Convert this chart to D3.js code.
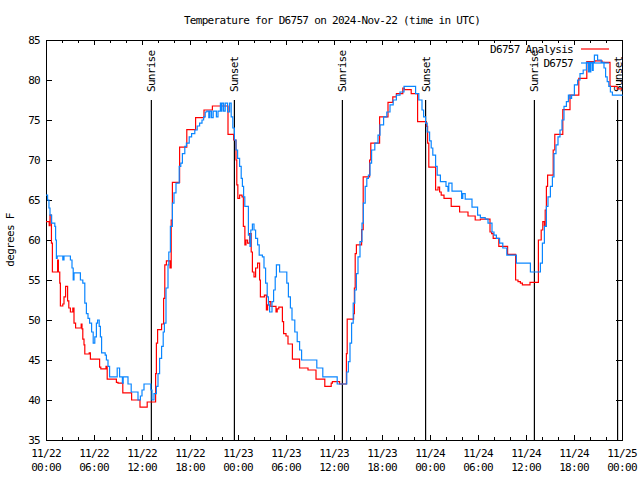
<!DOCTYPE html>
<html><head><meta charset="utf-8">
<script src="https://cdn.jsdelivr.net/npm/d3@7"></script>
<style>body{margin:0;background:#fff}text{font-family:"DejaVu Sans Mono",monospace;font-size:11px;letter-spacing:-0.7px;fill:#000}</style>
</head><body><svg id="c" width="640" height="480"></svg>
<script>
// hours since 2024-11-22 00:00 UTC
const analysisHours = [0,0.4,0.5,0.68,0.8,1.45,1.55,1.72,1.8,2.1,2.25,2.45,2.7,2.85,3.05,3.35,3.5,3.7,4.4,4.5,4.6,4.75,4.85,5.4,5.55,6.7,6.85,7.5,7.65,8.8,9.0,9.6,10.7,11.75,12.65,13.7,13.8,13.95,14.45,14.7,14.85,15.05,15.5,15.65,15.8,16.7,17.6,18.7,19.75,20.8,22.75,23.45,23.5,23.75,23.85,23.98,24.2,24.5,24.67,24.86,25.0,25.2,25.45,25.65,25.8,26.0,26.2,26.45,26.7,26.8,27.3,27.55,27.7,27.85,28.1,28.75,28.9,29.1,29.55,29.7,30.0,30.25,30.8,31.7,32.75,33.75,34.85,35.65,35.8,36.7,37.55,37.65,38.45,38.55,38.65,38.8,39.45,39.65,40.45,40.6,41.7,42.75,43.35,43.8,44.6,44.8,45.65,46.45,47.55,47.7,47.85,48.7,49.0,49.2,49.4,49.75,50.65,51.7,52.75,53.65,54.3,55.5,55.7,55.9,56.6,57.7,58.7,59.0,59.3,59.55,60.5,61.55,61.9,62.1,62.3,62.4,62.55,62.7,63.4,63.6,64.6,65.5,66.6,67.6,68.6,69.5,70.5,71.4,72];
const analysisTemps = [62.3,61.8,63.1,59.6,56.0,57.5,56.0,54.6,51.75,52.0,52.9,54.2,52.4,51.5,51.0,51.5,49.6,49.0,49.5,48.9,47.6,46.9,45.75,45.9,45.1,44.1,43.9,44.2,42.6,42.2,42.1,40.9,40.0,39.1,39.75,43.3,47.1,48.8,49.5,52.7,56.9,57.4,56.5,62.5,67.2,71.6,73.8,75.3,76.25,76.75,73.2,72.5,72.5,70.0,66.9,65.2,65.6,65.4,61.7,59.4,60.0,59.6,60.8,58.5,56.0,55.4,56.5,57.1,55.0,52.9,53.1,51.25,51.9,52.3,51.7,51.0,51.4,51.6,49.8,48.3,48.0,47.0,45.1,44.0,43.75,42.6,41.7,42.1,42.3,42.0,45.8,50.1,50.8,54.0,58.3,59.4,61.3,67.9,70.0,72.1,75.4,77.2,77.9,78.3,79.0,78.8,78.3,74.8,74.2,72.1,69.1,66.25,66.6,66.0,65.6,65.2,64.2,63.5,63.0,62.5,62.6,61.0,60.8,60.2,59.2,58.2,55.0,54.8,54.6,54.4,54.7,60.0,61.25,62.3,61.8,63.75,66.7,68.1,71.25,73.2,76.3,78.1,80.2,82.3,82.4,82.2,79.2,78.9,78.9];
const obsHours = [0,0.2,0.37,0.5,0.7,1.1,1.2,1.3,1.4,2.1,2.25,3.05,3.25,3.4,3.5,4.3,4.6,4.85,5.05,5.25,5.45,5.7,5.9,6.1,6.3,6.45,6.65,6.8,6.95,7.4,7.55,7.75,7.95,8.9,9.2,9.55,9.65,10.25,10.65,11.5,11.8,12.0,12.25,13.1,13.25,13.5,13.8,14.0,14.2,14.45,14.65,14.8,15.0,15.25,15.35,15.55,15.8,16.0,16.25,16.65,16.85,17.05,17.35,17.55,17.9,18.2,18.6,18.9,19.2,19.5,19.7,19.9,20.1,20.35,20.5,20.7,20.9,21.3,21.5,21.8,21.9,22.0,22.2,22.4,22.7,22.95,23.15,23.35,23.55,23.75,23.95,24.2,24.4,24.55,24.7,24.85,25.3,25.5,25.6,25.8,26.0,26.2,26.45,26.65,27.05,27.25,27.45,27.65,27.8,27.95,28.25,28.45,28.65,28.8,29.2,30.1,30.3,30.55,30.75,31.1,31.4,31.7,31.95,33.85,34.6,36.4,37.6,37.8,38.0,38.2,38.4,38.6,38.8,39.0,39.25,39.5,39.67,39.9,40.1,40.3,40.5,40.7,41.1,41.5,41.75,42.2,42.6,43.0,43.4,43.8,44.25,44.75,46.2,46.6,47.0,47.2,47.45,47.65,47.95,48.15,48.35,48.7,48.9,49.3,50.0,50.25,50.35,50.75,51.95,52.1,52.4,53.25,53.95,54.3,54.9,55.25,55.75,56.0,56.3,56.7,57.1,57.6,58.8,60.55,61.8,62.05,62.3,62.55,62.75,63.05,63.3,63.5,63.75,64.0,64.25,64.5,64.75,65.05,65.3,65.5,65.7,66.05,66.45,66.75,67.15,67.55,67.8,67.9,68.0,68.1,68.3,68.4,68.55,68.95,69.4,69.75,69.95,70.15,70.35,70.55,70.8,72];
const obsTemps = [65.6,65.0,64.0,63.1,62.1,61.7,60.0,57.7,58.0,57.5,58.0,57.5,56.5,55.0,55.9,55.0,54.6,52.1,50.8,50.2,49.6,48.5,47.1,47.9,49.6,50.0,49.2,47.9,45.9,45.6,45.0,44.2,42.9,44.0,42.9,42.1,42.9,42.0,41.0,40.0,40.5,41.25,42.0,41.25,40.0,40.8,41.7,43.3,45.2,46.7,48.5,49.6,54.0,56.9,58.5,61.7,64.6,65.9,67.1,69.2,69.6,70.8,71.7,72.1,72.9,73.3,73.75,74.25,74.6,75.0,75.4,76.0,76.1,75.3,76.1,75.3,76.1,75.4,76.1,77.1,76.1,77.1,76.1,77.1,76.0,77.1,75.4,74.0,72.5,71.25,70.2,69.2,67.7,66.7,65.4,64.2,60.6,59.2,61.25,62.0,61.25,60.2,59.4,58.1,57.9,56.5,54.6,52.9,51.9,51.0,52.3,53.75,55.4,56.9,56.0,54.6,52.9,51.5,50.0,48.5,47.3,46.25,45.0,44.0,42.9,42.0,43.5,44.8,47.1,49.6,52.1,53.75,55.8,57.9,59.8,62.1,64.6,66.7,67.7,68.1,69.6,71.25,72.1,73.1,74.4,75.4,76.0,76.9,77.5,78.1,78.5,79.2,78.3,77.5,76.25,75.4,74.6,73.5,72.4,71.5,70.6,69.2,68.1,67.3,66.7,66.1,67.1,66.1,65.2,65.8,65.1,64.1,63.1,62.8,62.6,62.1,61.0,60.6,60.2,59.6,59.0,58.1,57.1,56.0,57.1,59.6,61.7,64.2,65.4,66.7,67.9,70.8,71.9,72.9,73.75,75.0,76.7,77.3,78.1,77.7,78.1,79.4,80.0,80.8,81.25,82.2,81.0,82.2,81.0,82.2,81.2,82.2,83.1,82.5,82.2,81.5,80.4,79.8,79.2,78.5,78.1,78.0];
const sunEventHours = [13.17,23.55,37.05,47.45,61.05,71.45];
const sunEventLabels = ["Sunrise","Sunset","Sunrise","Sunset","Sunrise","Sunset"];
const yTicks = [35,40,45,50,55,60,65,70,75,80,85];
const xTickHours = [0,6,12,18,24,30,36,42,48,54,60,66,72];
const xTickDates = ["11/22","11/22","11/22","11/22","11/23","11/23","11/23","11/23","11/24","11/24","11/24","11/24","11/25"];
const xTickTimes = ["00:00","06:00","12:00","18:00","00:00","06:00","12:00","18:00","00:00","06:00","12:00","18:00","00:00"];
const xMinorHours = d3.range(0,73,2);
const seriesNames = ["D6757 Analysis","D6757"];
const seriesColors = ["#ff0000","#0a86ff"];

const L=46,R=622,T=40,B=440;
const svg=d3.select("#c");
const x=d3.scaleLinear().domain([0,72]).range([L,R]);
const y=d3.scaleLinear().domain([35,85]).range([B,T]);

svg.append("text").attr("x",332).attr("y",24).attr("text-anchor","middle")
  .text("Temperature for D6757 on 2024-Nov-22 (time in UTC)");
svg.append("text").attr("transform","translate(14,240) rotate(-90)").attr("text-anchor","middle").text("degrees F");

function crisp(g){g.select(".domain").remove();g.selectAll("line").attr("stroke","#000").attr("shape-rendering","crispEdges");}
svg.append("g").attr("transform",`translate(0,${B})`).call(d3.axisBottom(x).tickValues(xMinorHours).tickSize(-3).tickFormat("")).call(crisp);
svg.append("g").attr("transform",`translate(0,${T})`).call(d3.axisTop(x).tickValues(xMinorHours).tickSize(-3).tickFormat("")).call(crisp);
svg.append("g").attr("transform",`translate(0,${B})`).call(d3.axisBottom(x).tickValues(xTickHours).tickSize(-5).tickFormat("")).call(crisp);
svg.append("g").attr("transform",`translate(0,${T})`).call(d3.axisTop(x).tickValues(xTickHours).tickSize(-5).tickFormat("")).call(crisp);
const ya=svg.append("g").attr("transform",`translate(${L},0)`).call(d3.axisLeft(y).tickValues(yTicks).tickSize(-6).tickPadding(6)).call(crisp);
ya.selectAll("text").attr("fill","#000");
ya.attr("font-size",null).attr("font-family",null);
svg.append("g").attr("transform",`translate(${R},0)`).call(d3.axisRight(y).tickValues(yTicks).tickSize(-6).tickFormat("")).call(crisp);

const xl=svg.append("g");
xTickHours.forEach((h,i)=>{
  xl.append("text").attr("x",x(h)).attr("y",457).attr("text-anchor","middle").text(xTickDates[i]);
  xl.append("text").attr("x",x(h)).attr("y",471).attr("text-anchor","middle").text(xTickTimes[i]);
});

svg.append("rect").attr("x",L+0.5).attr("y",T+0.5).attr("width",R-L).attr("height",B-T)
  .attr("fill","none").attr("stroke","#000").attr("shape-rendering","crispEdges");

// sunrise / sunset markers
sunEventHours.forEach((h,i)=>{
  svg.append("line").attr("x1",x(h)).attr("x2",x(h)).attr("y1",y(77.5)).attr("y2",B)
    .attr("stroke","#000").attr("stroke-width",1.2);
  svg.append("text").attr("transform",`translate(${x(h)+4},${92}) rotate(-90)`).text(sunEventLabels[i]);
});

const line=d3.line().x(d=>x(d[0])).y(d=>y(d[1])).curve(d3.curveStepAfter);
const series=[d3.zip(analysisHours,analysisTemps),d3.zip(obsHours,obsTemps)];
series.forEach((s,i)=>{
  svg.append("path").datum(s).attr("d",line).attr("fill","none").attr("stroke",seriesColors[i]).attr("stroke-width",1.2);
});

// legend
seriesNames.forEach((n,i)=>{
  const ly=49+i*14;
  svg.append("text").attr("x",573).attr("y",ly+4).attr("text-anchor","end").text(n);
  svg.append("line").attr("x1",581).attr("x2",609).attr("y1",ly).attr("y2",ly).attr("stroke",seriesColors[i]).attr("stroke-width",1.2);
});
</script></body></html>
